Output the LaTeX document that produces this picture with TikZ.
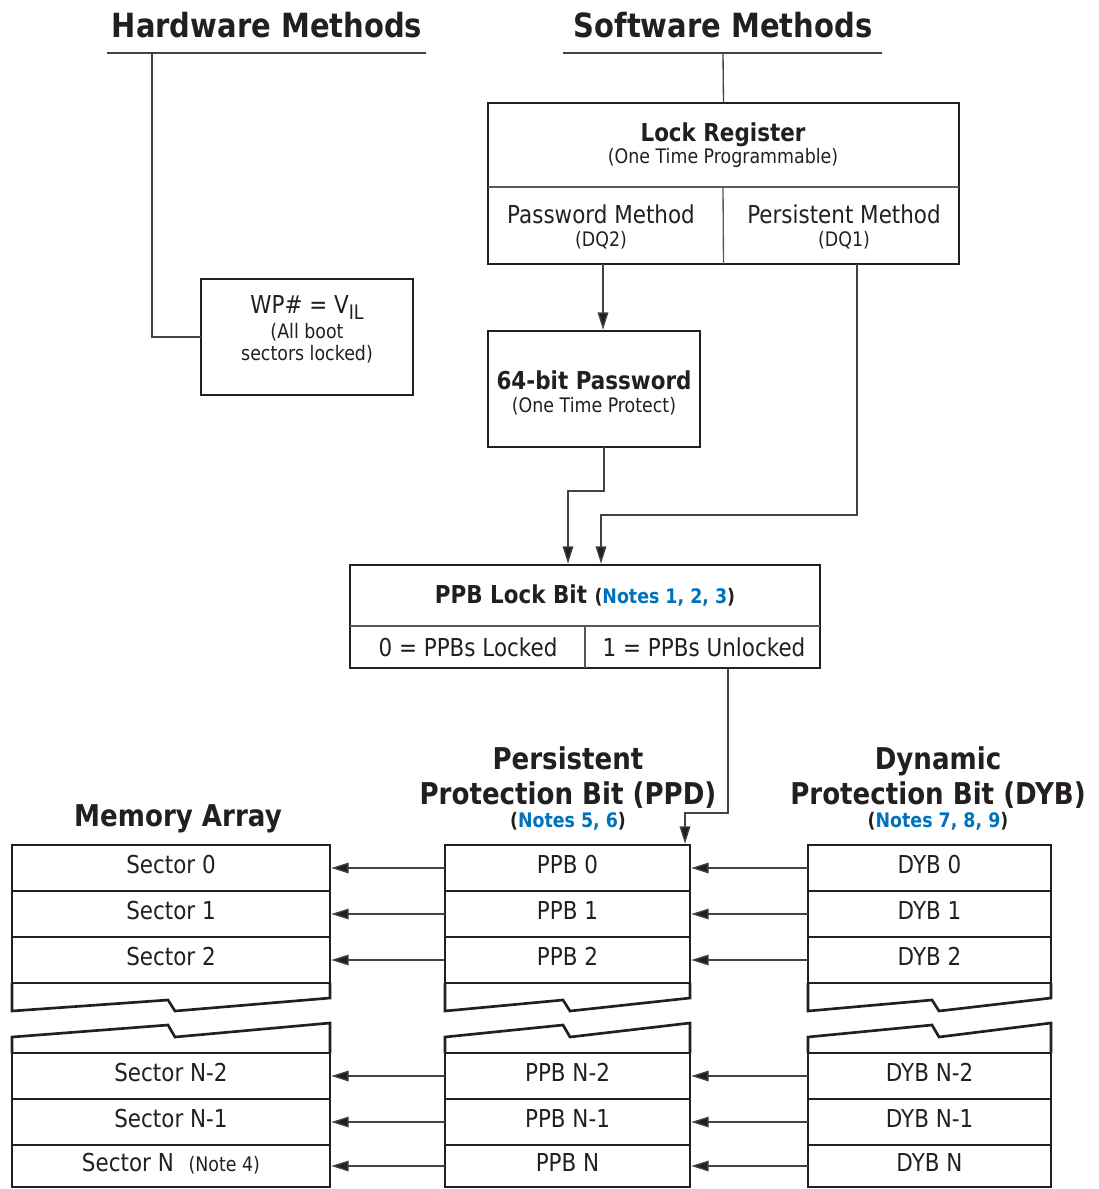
\documentclass[tikz,border=0pt]{standalone}
\usepackage{fontspec}
\setmainfont{DejaVu Sans}[FakeStretch=0.87]
\usetikzlibrary{arrows.meta}
\definecolor{ink}{HTML}{231F20}
\definecolor{noteblue}{HTML}{0072BC}
\newcommand{\notes}[1]{{\fontsize{15pt}{18pt}\selectfont\bfseries(\textcolor{noteblue}{#1})}}

\begin{document}
\begin{tikzpicture}[
  x=0.75pt, y=-0.75pt,
  every node/.style={text=ink},
  box/.style={draw=ink, line width=2pt, inner sep=0pt, outer sep=0pt},
  wd/.style={minimum width=#1*0.75pt},
  ht/.style={minimum height=#1*0.75pt},
  cell/.style={box, text height=1.05em, text depth=0.2em, font=\fontsize{18.5pt}{22pt}\selectfont},
  divline/.style={draw=ink!75, line width=1pt},
  wire/.style={draw=ink!85, line width=1pt},
  feed/.style={wire, shorten >=1pt, -{Triangle[length=13pt,width=8pt,fill=ink]}},
  bigtitle/.style={anchor=base, font=\fontsize{25pt}{30pt}\selectfont\bfseries},
  coltitle/.style={anchor=base, font=\fontsize{22.5pt}{27pt}\selectfont\bfseries},
  txt/.style={anchor=base, font=\fontsize{18.5pt}{22pt}\selectfont},
  boldtxt/.style={anchor=base, font=\fontsize{18.5pt}{22pt}\selectfont\bfseries},
  smalltxt/.style={anchor=base, font=\fontsize{15pt}{18pt}\selectfont},
]
\useasboundingbox (0,0) rectangle (1099,1189);

% method headings
\node[bigtitle] (hwtitle) at (267,37) {Hardware Methods};
\node[bigtitle] (swtitle) at (723,37) {Software Methods};
\coordinate (hwl) at (107,53);
\coordinate (hwr) at (426,53);
\coordinate (hwtap) at (152,53);
\coordinate (swl) at (563,53);
\coordinate (swr) at (882,53);
\coordinate (swtap) at (723,53);
\draw[wire] (hwl) -- (hwr);
\draw[wire] (swl) -- (swr);

% hardware side
\node[box, wd=212, ht=116] (wp) at (307,337) {};
\node[txt] (wptext) at (307,313) {WP\# = V\raisebox{-0.25em}{\fontsize{15pt}{15pt}\selectfont IL}};
\node[smalltxt] (wpnote1) at (307,338) {(All boot};
\node[smalltxt] (wpnote2) at (307,360) {sectors locked)};
\draw[wire] (hwtap) |- (wp.west);

% lock register
\node[box, wd=471, ht=161] (lockreg) at (723.5,183.5) {};
\node[boldtxt] (lrtitle) at (723,141) {Lock Register};
\node[smalltxt] (lrnote) at (723,163) {(One Time Programmable)};
\draw[divline] (488,187) -- (959,187);
\draw[divline] (723,187) -- (lockreg.south);
\node[txt] (pwdm) at (601,223) {Password Method};
\node[smalltxt] (dq2) at (601,246) {(DQ2)};
\node[txt] (perm) at (844,223) {Persistent Method};
\node[smalltxt] (dq1) at (844,246) {(DQ1)};
\draw[wire] (swtap) -- (lockreg.north);

% password
\node[box, wd=212, ht=116] (pwd) at (594,389) {};
\node[boldtxt] (pwdtitle) at (594,389) {64-bit Password};
\node[smalltxt] (pwdnote) at (594,412) {(One Time Protect)};
\coordinate (dq2tap) at (603,264);
\draw[feed] (dq2tap) -- (dq2tap |- pwd.north);

% PPB lock bit
\node[box, wd=470, ht=103] (ppblock) at (585,616.5) {};
\node[boldtxt] (pltitle) at (585,603) {PPB Lock Bit \notes{Notes 1, 2, 3}};
\draw[divline] (350,626) -- (820,626);
\draw[divline] (585,626) -- (ppblock.south);
\node[txt] (locked) at (468,656) {0 = PPBs Locked};
\node[txt] (unlocked) at (704,656) {1 = PPBs Unlocked};
\coordinate (pwdtap) at (604,447);
\coordinate (dq1tap) at (857,264);
\coordinate (plin1) at (568,565);
\coordinate (plin2) at (601,565);
\draw[feed] (pwdtap) -- ++(0,44) -| (plin1);
\draw[feed] (dq1tap) -- ++(0,251) -| (plin2);

% column headings
\node[coltitle] (memtitle) at (178,826) {Memory Array};
\node[coltitle] (ppbtitle1) at (568,769) {Persistent};
\node[coltitle] (ppbtitle2) at (568,804) {Protection Bit (PPD)};
\node[anchor=base] (ppbnotes) at (568,827) {\notes{Notes 5, 6}};
\node[coltitle] (dybtitle1) at (938,769) {Dynamic};
\node[coltitle] (dybtitle2) at (938,804) {Protection Bit (DYB)};
\node[anchor=base] (dybnotes) at (938,827) {\notes{Notes 7, 8, 9}};

% cells
\node[cell, wd=318, ht=46] (m0) at (171,868) {Sector 0};
\node[cell, wd=318, ht=46] (m1) at (171,914) {Sector 1};
\node[cell, wd=318, ht=46] (m2) at (171,960) {Sector 2};
\node[cell, wd=318, ht=46] (mN2) at (171,1076) {Sector N-2};
\node[cell, wd=318, ht=46] (mN1) at (171,1122) {Sector N-1};
\node[cell, wd=318, ht=42] (mN) at (171,1166) {Sector N\hspace{0.6em}{\fontsize{15pt}{18pt}\selectfont(Note 4)}};
\node[cell, wd=245, ht=46] (p0) at (567.5,868) {PPB 0};
\node[cell, wd=245, ht=46] (p1) at (567.5,914) {PPB 1};
\node[cell, wd=245, ht=46] (p2) at (567.5,960) {PPB 2};
\node[cell, wd=245, ht=46] (pN2) at (567.5,1076) {PPB N-2};
\node[cell, wd=245, ht=46] (pN1) at (567.5,1122) {PPB N-1};
\node[cell, wd=245, ht=42] (pN) at (567.5,1166) {PPB N};
\node[cell, wd=243, ht=46] (d0) at (929.5,868) {DYB 0};
\node[cell, wd=243, ht=46] (d1) at (929.5,914) {DYB 1};
\node[cell, wd=243, ht=46] (d2) at (929.5,960) {DYB 2};
\node[cell, wd=243, ht=46] (dN2) at (929.5,1076) {DYB N-2};
\node[cell, wd=243, ht=46] (dN1) at (929.5,1122) {DYB N-1};
\node[cell, wd=243, ht=42] (dN) at (929.5,1166) {DYB N};

% break marks
\foreach \l/\r/\n in {12/330/168, 445/690/563, 808/1051/932} {
  \draw[draw=ink, line width=2pt] (\l,983) -- (\l,1011) -- (\n,1000) -- (\n+7,1011) -- (\r,998) -- (\r,983);
  \draw[draw=ink, line width=2pt] (\l,1053) -- (\l,1037) -- (\n,1025) -- (\n+7,1037) -- (\r,1023) -- (\r,1053);
}

% unlocked feeds the PPBs
\coordinate (unltap) at (728,668);
\coordinate (ppbin) at (685,845);
\draw[feed] (unltap) -- ++(0,145) -| (ppbin);

% row arrows
\draw[feed] (p0.west) -- (m0.east);
\draw[feed] (p1.west) -- (m1.east);
\draw[feed] (p2.west) -- (m2.east);
\draw[feed] (pN2.west) -- (mN2.east);
\draw[feed] (pN1.west) -- (mN1.east);
\draw[feed] (pN.west) -- (mN.east);
\draw[feed] (d0.west) -- (p0.east);
\draw[feed] (d1.west) -- (p1.east);
\draw[feed] (d2.west) -- (p2.east);
\draw[feed] (dN2.west) -- (pN2.east);
\draw[feed] (dN1.west) -- (pN1.east);
\draw[feed] (dN.west) -- (pN.east);
\end{tikzpicture}
\end{document}
